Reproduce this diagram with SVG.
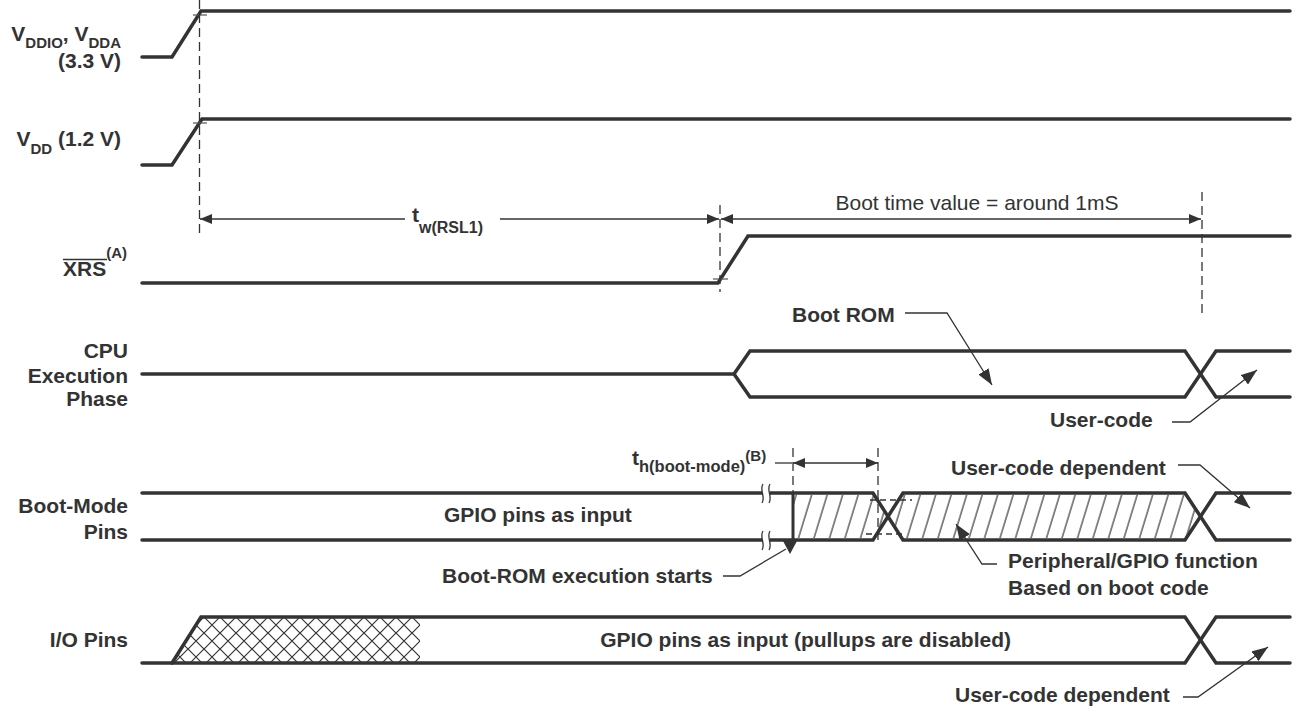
<svg xmlns="http://www.w3.org/2000/svg" width="1296" height="706" viewBox="0 0 1296 706">
<style>
.sig{fill:none;stroke:#333;stroke-width:3.5;stroke-linejoin:miter;stroke-linecap:round}
.thin{fill:none;stroke:#333;stroke-width:1.3}
.dash{fill:none;stroke:#333;stroke-width:1.3;stroke-dasharray:9,5}
.tick{fill:none;stroke:#555;stroke-width:1.2}
.lbl{font-family:"Liberation Sans",Arial,sans-serif;font-weight:bold;font-size:21px;fill:#333}
.reg{font-family:"Liberation Sans",Arial,sans-serif;font-weight:normal;font-size:21px;fill:#333}
.sub{font-size:15px}
</style>
<defs>
<marker id="ah" viewBox="0 0 12 10" refX="12" refY="5" markerWidth="12" markerHeight="10" markerUnits="userSpaceOnUse" orient="auto-start-reverse">
<path d="M0,0 L12,5 L0,10 z" fill="#333"/>
</marker>
<marker id="lh" viewBox="0 0 16 12" refX="16" refY="6" markerWidth="16" markerHeight="12" markerUnits="userSpaceOnUse" orient="auto">
<path d="M0,0 L16,6 L0,12 z" fill="#333"/>
</marker>
<pattern id="hatch" patternUnits="userSpaceOnUse" width="15.5" height="50" patternTransform="skewX(-17)">
<line x1="2" y1="0" x2="2" y2="50" stroke="#333" stroke-width="1.2"/>
</pattern>
<pattern id="xhatch" patternUnits="userSpaceOnUse" width="16" height="16" x="172" y="617">
<path d="M-2,-2 L18,18 M18,-2 L-2,18" stroke="#333" stroke-width="1.2" fill="none"/>
</pattern>
</defs>
<rect width="1296" height="706" fill="#fff"/>

<g id="labels">
<text class="lbl" x="121" y="41" text-anchor="end">V<tspan class="sub" dy="7">DDIO</tspan><tspan dy="-7">, V</tspan><tspan class="sub" dy="7">DDA</tspan></text>
<text class="lbl" x="121" y="68" text-anchor="end">(3.3 V)</text>
<text class="lbl" x="121" y="146" text-anchor="end">V<tspan class="sub" dy="8">DD</tspan><tspan dy="-8"> (1.2 V)</tspan></text>
<text class="lbl" x="63" y="276">XRS<tspan class="sub" dy="-18">(A)</tspan></text>
<line x1="63" y1="259.5" x2="107" y2="259.5" stroke="#333" stroke-width="1.6"/>
<text class="lbl" x="128" y="358" text-anchor="end">CPU</text>
<text class="lbl" x="128" y="383" text-anchor="end">Execution</text>
<text class="lbl" x="128" y="406" text-anchor="end">Phase</text>
<text class="lbl" x="128" y="513" text-anchor="end">Boot-Mode</text>
<text class="lbl" x="128" y="539" text-anchor="end">Pins</text>
<text class="lbl" x="128" y="647" text-anchor="end">I/O Pins</text>
</g>

<g id="sig-vddio">
<polyline class="sig" points="142,57 172,57 201,11 1290,11"/>
<line class="tick" x1="193" y1="15" x2="207" y2="15"/>
</g>

<g id="sig-vdd">
<polyline class="sig" points="142,165 172,165 202,119 1290,119"/>
<line class="tick" x1="193" y1="123" x2="207" y2="123"/>
</g>

<g id="sig-xrs">
<polyline class="sig" points="142,283 718,283 748,236 1290,236"/>
<line class="tick" x1="713" y1="279" x2="728" y2="279"/>
</g>

<g id="sig-cpu">
<polyline class="sig" points="142,374 734,374 750,351 1185,351 1216,397 1290,397"/>
<polyline class="sig" points="734,374 750,397 1185,397 1216,351 1290,351"/>
<text class="lbl" x="792" y="322">Boot ROM</text>
<text class="lbl" x="1050" y="427">User-code</text>
</g>

<g id="sig-bootmode">
<polygon points="794,495 873,495 887,517 873,538 794,538" fill="url(#hatch)"/>
<polygon points="903,495 1185,495 1199,517 1185,538 903,538 889,517" fill="url(#hatch)"/>
<polyline class="sig" points="142,493 873,493 903,540 1185,540 1216,493 1290,493"/>
<polyline class="sig" points="142,540 873,540 903,493 1185,493 1216,540 1290,540"/>
<rect x="762" y="484" width="8" height="20" fill="#fff"/>
<rect x="762" y="531" width="8" height="20" fill="#fff"/>
<path class="thin" d="M763,484 C759,490 766,497 762,503 M770,484 C766,490 773,497 769,503 M763,531 C759,537 766,544 762,550 M770,531 C766,537 773,544 769,550"/>
<line x1="793" y1="493" x2="793" y2="541" stroke="#333" stroke-width="3"/>
<path d="M783,541 L797,541 L790,554 z" fill="#333"/>
<text class="lbl" x="444" y="522">GPIO pins as input</text>
<text class="lbl" x="442" y="583">Boot-ROM execution starts</text>
<text class="lbl" x="951" y="475">User-code dependent</text>
<text class="lbl" x="1008" y="568">Peripheral/GPIO function</text>
<text class="lbl" x="1008" y="595">Based on boot code</text>
<text class="lbl" x="632" y="465">t<tspan style="font-size:16.5px" dy="7">h(boot-mode)</tspan><tspan class="sub" dy="-11">(B)</tspan></text>
</g>

<g id="sig-io">
<polygon points="172,663 201,617 420,617 420,663" fill="url(#xhatch)"/>
<polyline class="sig" points="142,663 1185,663 1216,617 1290,617"/>
<polyline class="sig" points="172,663 201,617 1185,617 1216,663 1290,663"/>
<text class="lbl" x="1011" y="647" text-anchor="end">GPIO pins as input (pullups are disabled)</text>
<text class="lbl" x="955" y="702">User-code dependent</text>
</g>

<g id="connectors">
<line class="dash" x1="199.5" y1="0" x2="199.5" y2="237"/>
<line class="dash" x1="720" y1="205" x2="720" y2="292"/>
<line class="dash" x1="1202" y1="192" x2="1202" y2="315"/>
<line class="dash" x1="793" y1="448" x2="793" y2="493"/>
<line class="dash" x1="878" y1="448" x2="878" y2="540"/>
<line class="dash" x1="870" y1="500" x2="912" y2="500" style="stroke-dasharray:6,4"/>
<line class="dash" x1="866" y1="534" x2="906" y2="534" style="stroke-dasharray:6,4"/>
<line class="thin" x1="200" y1="219" x2="405" y2="219" marker-start="url(#ah)"/>
<line class="thin" x1="500" y1="219" x2="719" y2="219" marker-end="url(#ah)"/>
<text class="lbl" x="412" y="222">t<tspan style="font-size:16px" dy="11">w(RSL1)</tspan></text>
<line class="thin" x1="721" y1="219" x2="1201" y2="219" marker-start="url(#ah)" marker-end="url(#ah)"/>
<text class="reg" x="977" y="210" text-anchor="middle">Boot time value = around 1mS</text>
<line class="thin" x1="793" y1="463" x2="878" y2="463" marker-start="url(#ah)" marker-end="url(#ah)"/>
<line class="thin" x1="775" y1="463" x2="792" y2="463"/>
<polyline class="thin" points="905,313 947,313 992,385" marker-end="url(#lh)"/>
<polyline class="thin" points="1172,422 1190,422 1257,370" marker-end="url(#lh)"/>
<polyline class="thin" points="723,576 740,576 786,549"/>
<polyline class="thin" points="1178,465 1200,465 1250,508" marker-end="url(#lh)"/>
<polyline class="thin" points="997,564 982,564 956,524" marker-end="url(#lh)"/>
<polyline class="thin" points="1183,697 1198,697 1268,647" marker-end="url(#lh)"/>
</g>
</svg>
